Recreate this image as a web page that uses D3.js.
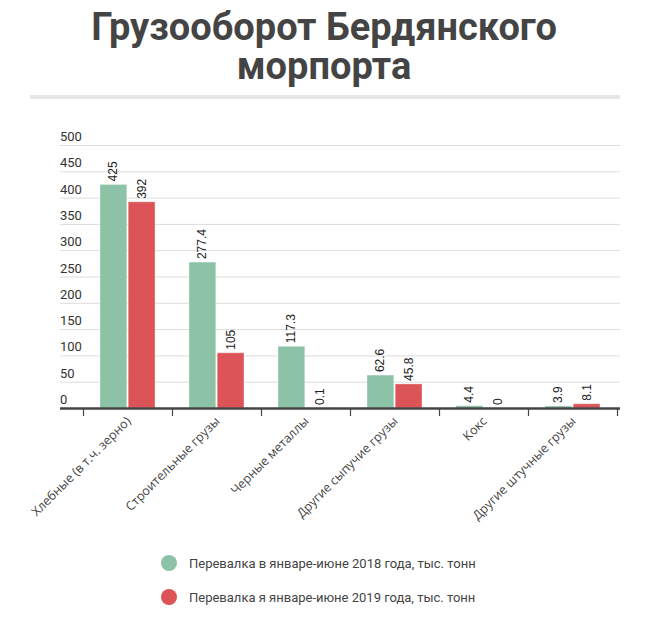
<!DOCTYPE html>
<html>
<head>
<meta charset="utf-8">
<script src="https://cdn.jsdelivr.net/npm/d3@7"></script>
<style>
  body { margin: 0; background: #fff; }
  svg { display: block; }
</style>
</head>
<body>
<svg width="650" height="624"></svg>
<script>
const categories = ["Хлебные (в т.ч. зерно)", "Строительные грузы", "Черные металлы", "Другие сыпучие грузы", "Кокс", "Другие штучные грузы"];
const values2018 = [425, 277.4, 117.3, 62.6, 4.4, 3.9];
const values2019 = [392, 105, 0.1, 45.8, 0, 8.1];
const seriesNames = ["Перевалка в январе-июне 2018 года, тыс. тонн", "Перевалка я январе-июне 2019 года, тыс. тонн"];
const yTicks = [0, 50, 100, 150, 200, 250, 300, 350, 400, 450, 500];

const colors = ["#8cc2a6", "#dc5457"];
const series = [values2018, values2019];

const svg = d3.select("svg");

// title
const title = svg.append("text")
  .attr("text-anchor", "middle")
  .attr("font-family", "Roboto, sans-serif")
  .attr("font-weight", "bold")
  .attr("font-size", 38)
  .attr("fill", "#444");
title.append("tspan").attr("x", 324).attr("y", 40).text("Грузооборот Бердянского");
title.append("tspan").attr("x", 324).attr("y", 79).text("морпорта");

svg.append("rect")
  .attr("x", 30).attr("y", 95)
  .attr("width", 590).attr("height", 4)
  .attr("fill", "#e6e6e6");

let margin = { "top": 145, "right": 620, "bottom": 408, "left": 60 };

let x0 = d3.scaleBand()
  .domain(categories)
  .range([83, 617]);

let x1 = d3.scaleBand()
  .domain([0, 1])
  .range([17, 72])
  .paddingInner(0.05);

let yScale = d3.scaleLinear()
  .domain([0, 500])
  .range([margin.bottom, margin.top]);

// gridlines + y labels
svg.append("g").selectAll("line")
  .data(yTicks.filter(d => d > 0))
  .enter().append("line")
  .attr("x1", margin.left)
  .attr("x2", margin.right)
  .attr("y1", d => yScale(d) + 0.5)
  .attr("y2", d => yScale(d) + 0.5)
  .attr("stroke", "#dcdcdc");

svg.append("g").selectAll("text")
  .data(yTicks)
  .enter().append("text")
  .attr("x", margin.left)
  .attr("y", d => yScale(d) - 4)
  .attr("font-family", "Roboto, sans-serif")
  .attr("font-size", 13)
  .attr("fill", "#333")
  .text(d => d);

// bars
const groups = svg.append("g").selectAll("g")
  .data(categories)
  .enter().append("g")
  .attr("transform", d => "translate(" + x0(d) + ",0)");

groups.selectAll("rect")
  .data((d, i) => series.map((s, k) => ({ k: k, v: s[i] })))
  .enter().append("rect")
  .attr("x", d => x1(d.k))
  .attr("y", d => yScale(d.v))
  .attr("width", x1.bandwidth())
  .attr("height", d => yScale(0) - yScale(d.v))
  .attr("fill", d => colors[d.k])
  .attr("stroke", "#fff")
  .attr("stroke-opacity", 0.35)
  .attr("stroke-width", 1);

groups.selectAll("text")
  .data((d, i) => series.map((s, k) => ({ k: k, v: s[i] })))
  .enter().append("text")
  .attr("transform", d => "translate(" + (x1(d.k) + x1.bandwidth() / 2 + 4) + "," + (yScale(d.v) - 3) + ") rotate(-90)")
  .attr("font-family", "Liberation Sans, Arial, sans-serif")
  .attr("font-size", 12)
  .attr("fill", "#222")
  .text(d => d.v);

// x axis
const xAxis = d3.axisBottom(x0).tickSize(0).tickFormat("");
svg.append("line")
  .attr("x1", margin.left).attr("x2", margin.right)
  .attr("y1", margin.bottom + 0.5).attr("y2", margin.bottom + 0.5)
  .attr("stroke", "#444").attr("stroke-width", 2.5);

const tickPos = categories.map(c => x0(c)).concat([x0.range()[1]]);
svg.append("g").selectAll("line")
  .data(tickPos)
  .enter().append("line")
  .attr("x1", d => d + 0.5).attr("x2", d => d + 0.5)
  .attr("y1", margin.bottom).attr("y2", margin.bottom + 8)
  .attr("stroke", "#444").attr("stroke-width", 1.2);

svg.append("g").selectAll("text")
  .data(categories)
  .enter().append("text")
  .attr("transform", d => "translate(" + (x0(d) + x0.bandwidth() / 2 + 4) + "," + (margin.bottom + 14) + ") rotate(-45)")
  .attr("text-anchor", "end")
  .attr("font-family", "Open Sans, sans-serif")
  .attr("font-size", 12.5)
  .attr("fill", "#444")
  .text(d => d);

// legend
const legend = svg.append("g").selectAll("g")
  .data(seriesNames)
  .enter().append("g")
  .attr("transform", (d, i) => "translate(169," + (563 + i * 34) + ")");
legend.append("circle")
  .attr("r", 8)
  .attr("fill", (d, i) => colors[i]);
legend.append("text")
  .attr("x", 20)
  .attr("y", 4.5)
  .attr("font-family", "Roboto, sans-serif")
  .attr("font-size", 13)
  .attr("fill", "#444")
  .text(d => d);
</script>
</body>
</html>
